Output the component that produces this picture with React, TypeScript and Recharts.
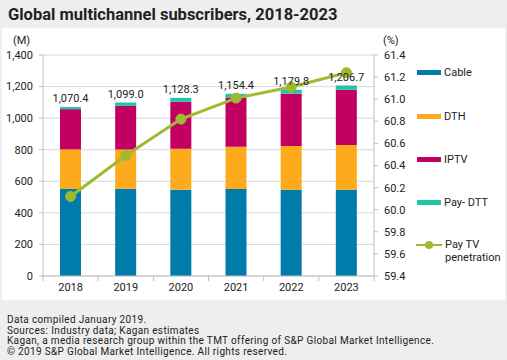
import { ComposedChart, Bar, Line, XAxis, YAxis, CartesianGrid, LabelList } from "recharts";

const years = ["2018", "2019", "2020", "2021", "2022", "2023"];
const cable = [551, 553, 547, 551, 547, 547];
const dth = [251, 249, 259, 268, 277, 283];
const iptv = [255, 276, 298, 311, 331, 350];
const payDtt = [13.4, 21, 24.3, 24.4, 24.8, 26.7];
const totals = [1070.4, 1099.0, 1128.3, 1154.4, 1179.8, 1206.7];
const penetration = [60.12, 60.49, 60.82, 61.01, 61.11, 61.24];

const leftTicks = [0, 200, 400, 600, 800, 1000, 1200, 1400];
const rightTicks = [59.4, 59.6, 59.8, 60.0, 60.2, 60.4, 60.6, 60.8, 61.0, 61.2, 61.4];

const footnotes = [
  "Data compiled January 2019.",
  "Sources: Industry data; Kagan estimates",
  "Kagan, a media research group within the TMT offering of S&P Global Market Intelligence.",
  "\u00a9 2019 S&P Global Market Intelligence. All rights reserved.",
];

const COLORS = {
  cable: "#007cab",
  dth: "#fdaa1c",
  iptv: "#c20062",
  payDtt: "#1dc6a5",
  pen: "#9dbb30",
};

const data = years.map((y, i) => ({
  year: y,
  cable: cable[i],
  dth: dth[i],
  iptv: iptv[i],
  payDtt: payDtt[i],
  total: totals[i],
  pen: penetration[i],
}));

const FONT = "Roboto, 'Liberation Sans', sans-serif";
const BAND = 331 / years.length;

function YearTick(props: any) {
  const { x, y, payload, index } = props;
  return (
    <g>
      <line x1={x - BAND / 2} x2={x - BAND / 2} y1={y - 7} y2={y - 2} stroke="#bfbfbf" />
      {index === years.length - 1 && (
        <line x1={x + BAND / 2} x2={x + BAND / 2} y1={y - 7} y2={y - 2} stroke="#bfbfbf" />
      )}
      <text x={x} y={y} dy="0.71em" textAnchor="middle" fontSize={11} fill="#222">
        {payload.value}
      </text>
    </g>
  );
}

const legendItems = [
  { label: "Cable", color: COLORS.cable, top: 72 },
  { label: "DTH", color: COLORS.dth, top: 116 },
  { label: "IPTV", color: COLORS.iptv, top: 159 },
  { label: "Pay- DTT", color: COLORS.payDtt, top: 202 },
];

export default function App() {
  const tickStyle = { fontSize: 11, fill: "#222", fontFamily: FONT };
  return (
    <div
      style={{
        position: "absolute",
        left: 0,
        top: 0,
        width: 507,
        height: 360,
        background: "#eeeeee",
        fontFamily: FONT,
        color: "#222",
      }}
    >
      <div style={{ position: "absolute", left: 8, top: 5, fontSize: 16.5, fontWeight: 700, whiteSpace: "nowrap" }}>
        Global multichannel subscribers, 2018-2023
      </div>
      <div style={{ position: "absolute", left: 2, top: 28, width: 503, height: 272, background: "#fff" }} />
      <div style={{ position: "absolute", left: 13, top: 34, fontSize: 11 }}>(M)</div>
      <div style={{ position: "absolute", left: 383, top: 34, fontSize: 11 }}>(%)</div>
      <div style={{ position: "absolute", left: 0, top: 0 }}>
        <ComposedChart
          width={507}
          height={300}
          data={data}
          margin={{ top: 55, right: 93, bottom: 0, left: 3 }}
          barSize={21}
        >
          <CartesianGrid yAxisId="left" vertical={false} stroke="#d9d9d9" />
          <XAxis
            dataKey="year"
            height={24}
            tickLine={false}
            tickSize={5}
            tickMargin={2}
            stroke="#bfbfbf"
            tick={<YearTick />}
          />
          <YAxis
            yAxisId="left"
            width={40}
            domain={[0, 1400]}
            ticks={leftTicks}
            tickSize={4}
            tickMargin={6}
            stroke="#bfbfbf"
            tick={tickStyle}
            tickFormatter={(v: number) => v.toLocaleString("en-US")}
          />
          <YAxis
            yAxisId="right"
            orientation="right"
            width={40}
            domain={[59.4, 61.4]}
            ticks={rightTicks}
            tickSize={4}
            tickMargin={6}
            stroke="#bfbfbf"
            tick={tickStyle}
            tickFormatter={(v: number) => v.toFixed(1)}
          />
          <Bar yAxisId="left" dataKey="cable" stackId="a" fill={COLORS.cable} isAnimationActive={false} />
          <Bar yAxisId="left" dataKey="dth" stackId="a" fill={COLORS.dth} isAnimationActive={false} />
          <Bar yAxisId="left" dataKey="iptv" stackId="a" fill={COLORS.iptv} isAnimationActive={false} />
          <Bar yAxisId="left" dataKey="payDtt" stackId="a" fill={COLORS.payDtt} isAnimationActive={false}>
            <LabelList
              dataKey="total"
              position="top"
              offset={5}
              style={{ fontSize: 11, fill: "#222", fontFamily: FONT }}
              formatter={(v: any) =>
                Number(v).toLocaleString("en-US", { minimumFractionDigits: 1, maximumFractionDigits: 1 })
              }
            />
          </Bar>
          <Line
            yAxisId="right"
            dataKey="pen"
            stroke={COLORS.pen}
            strokeWidth={3}
            dot={{ r: 5, fill: COLORS.pen, stroke: COLORS.pen, strokeWidth: 1 }}
            isAnimationActive={false}
          />
        </ComposedChart>
      </div>
      {legendItems.map((it) => (
        <div key={it.label} style={{ position: "absolute", left: 417, top: it.top - 7, height: 14, display: "flex", alignItems: "center" }}>
          <div style={{ width: 24, height: 5, background: it.color, marginRight: 3 }} />
          <span style={{ fontSize: 11 }}>{it.label}</span>
        </div>
      ))}
      <div style={{ position: "absolute", left: 415, top: 238, display: "flex" }}>
        <svg width={28} height={14} style={{ marginRight: 2 }}>
          <line x1={1} x2={27} y1={7} y2={7} stroke={COLORS.pen} strokeWidth={2} />
          <circle cx={14} cy={7} r={4} fill={COLORS.pen} />
        </svg>
        <span style={{ fontSize: 11, lineHeight: "13px" }}>
          Pay TV
          <br />
          penetration
        </span>
      </div>
      <div
        style={{
          position: "absolute",
          left: 7,
          top: 315,
          fontSize: 10,
          lineHeight: "10.5px",
          letterSpacing: "0.35px",
          whiteSpace: "nowrap",
        }}
      >
        {footnotes.map((f) => (
          <div key={f}>{f}</div>
        ))}
      </div>
    </div>
  );
}
